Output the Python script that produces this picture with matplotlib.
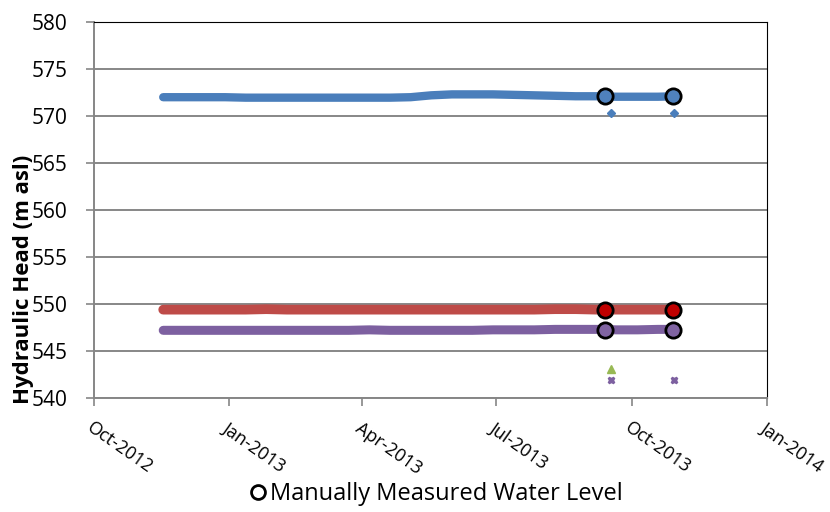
import matplotlib
matplotlib.use("Agg")
import matplotlib.pyplot as plt
from matplotlib.lines import Line2D
import pandas as pd

# Logger series (roughly biweekly)
dates = ["2012-11-17", "2012-12-01", "2012-12-15", "2012-12-29", "2013-01-12", "2013-01-26",
         "2013-02-09", "2013-02-23", "2013-03-09", "2013-03-23", "2013-04-06", "2013-04-20",
         "2013-05-04", "2013-05-18", "2013-06-01", "2013-06-15", "2013-06-29", "2013-07-13",
         "2013-07-27", "2013-08-10", "2013-08-24", "2013-09-07", "2013-09-21", "2013-10-05",
         "2013-10-19", "2013-10-31"]
blue_vals = [572.0, 572.0, 572.0, 572.0, 571.95, 571.95, 571.95, 571.95, 571.95, 571.95, 571.95,
             571.95, 572.0, 572.2, 572.3, 572.3, 572.3, 572.25, 572.2, 572.15, 572.1, 572.1,
             572.05, 572.05, 572.05, 572.1]
red_vals = [549.4, 549.4, 549.4, 549.4, 549.4, 549.45, 549.4, 549.4, 549.4, 549.4, 549.4, 549.4,
            549.4, 549.4, 549.4, 549.4, 549.4, 549.4, 549.4, 549.45, 549.45, 549.4, 549.4, 549.4,
            549.4, 549.4]
purple_vals = [547.2, 547.2, 547.2, 547.2, 547.2, 547.2, 547.2, 547.2, 547.2, 547.2, 547.25,
               547.2, 547.2, 547.2, 547.2, 547.2, 547.25, 547.25, 547.25, 547.3, 547.3, 547.3,
               547.25, 547.25, 547.3, 547.3]

# Outliers
out_dates = ["2013-09-17", "2013-10-30"]
blue_out = [570.3, 570.3]
purple_out = [541.9, 541.9]
green_out_date = ["2013-09-17"]
green_out = [543.1]

# Manual measurements
manual_dates = ["2013-09-13", "2013-10-29"]
manual_blue = [572.1, 572.1]
manual_red = [549.4, 549.4]
manual_purple = [547.2, 547.2]

xticks = ["2012-10-01", "2013-01-01", "2013-04-01", "2013-07-01", "2013-10-01", "2014-01-01"]
xtick_labels = ["Oct-2012", "Jan-2013", "Apr-2013", "Jul-2013", "Oct-2013", "Jan-2014"]

BLUE = "#4A7EBB"
RED = "#BE4B48"
PURPLE = "#7D60A0"
GREEN = "#98B954"

plt.rcParams['font.family'] = ['Open Sans', 'DejaVu Sans']

fig = plt.figure(figsize=(8.3, 5.12), dpi=100)
ax = fig.add_axes([94/830, 1 - 398/512, (767-94)/830, (398-22)/512])

d = pd.to_datetime(dates)
ax.plot(d, blue_vals, color=BLUE, lw=6, solid_capstyle='round', zorder=3)
ax.plot(d, red_vals, color=RED, lw=7, solid_capstyle='round', zorder=3)
ax.plot(d, purple_vals, color=PURPLE, lw=6.5, solid_capstyle='round', zorder=3)

od = pd.to_datetime(out_dates)
ax.plot(od, blue_out, 'D', color=BLUE, ms=4.5, ls='none', zorder=3)
ax.plot(od, purple_out, 'X', color=PURPLE, ms=5, ls='none', zorder=3)
ax.plot(pd.to_datetime(green_out_date), green_out, '^', color=GREEN, ms=5.5, ls='none', zorder=3)

md = pd.to_datetime(manual_dates)
ax.plot(md, manual_blue, 'o', mfc="#4F81BD", mec='black', mew=2, ms=11, ls='none', zorder=4)
ax.plot(md, manual_red, 'o', mfc="#C00000", mec='black', mew=2, ms=11, ls='none', zorder=4)
ax.plot(md, manual_purple, 'o', mfc="#8064A2", mec='black', mew=2, ms=11, ls='none', zorder=4)

ax.set_ylim(540, 580)
ax.set_yticks(range(540, 581, 5))
ax.set_xlim(pd.Timestamp("2012-10-01"), pd.Timestamp("2014-01-01"))
ax.set_xticks(pd.to_datetime(xticks))
ax.set_xticklabels(xtick_labels, rotation=-35, ha='left', va='top', rotation_mode='anchor')
ax.tick_params(axis='x', labelsize=13, length=6, width=1.2, color='#868686', direction='out', pad=9)
ax.tick_params(axis='y', labelsize=15, length=6, width=1.2, color='#868686', direction='out', pad=13)

ax.grid(axis='y', color='#878787', lw=1.4, zorder=0)
for s in ['top', 'right']:
    ax.spines[s].set_color('black')
    ax.spines[s].set_linewidth(0.8)
for s in ['left', 'bottom']:
    ax.spines[s].set_color('#868686')
    ax.spines[s].set_linewidth(1.4)

ax.set_ylabel("Hydraulic Head (m asl)", fontsize=16, fontweight='bold')
ax.yaxis.label.set_va('center')
ax.yaxis.set_label_coords((24 - 94) / 673, (398 - 279) / 376)

handle = Line2D([], [], marker='o', mfc='white', mec='black', mew=2, ms=10, ls='none')
fig.legend([handle], ["Manually Measured Water Level"], loc='center', bbox_to_anchor=(0.523, 1 - 494/512),
           frameon=False, fontsize=17, handletextpad=0.0, handlelength=1.0, borderaxespad=0)

fig.savefig("out.png", dpi=100)
